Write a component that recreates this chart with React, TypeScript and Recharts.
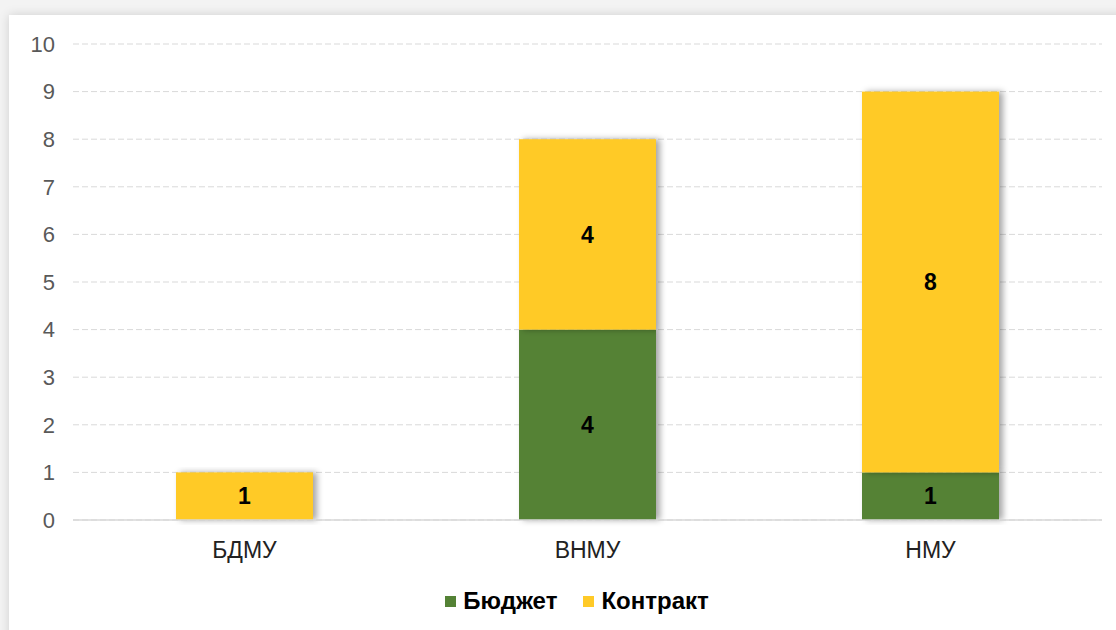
import React from 'react';
import { BarChart, Bar, XAxis, YAxis, CartesianGrid, Legend, LabelList } from 'recharts';

const categories = ['БДМУ', 'ВНМУ', 'НМУ'];
const budget = [0, 4, 1];
const contract = [1, 4, 8];
const yTicks = [0, 1, 2, 3, 4, 5, 6, 7, 8, 9, 10];

const data = categories.map((name, i) => ({ name, budget: budget[i], contract: contract[i] }));

const GREEN = '#548235';
const YELLOW = '#FFCA28';
const FONT = '"Liberation Sans", Arial, sans-serif';

const ShadowRect = (props: any) => {
  const { x, y, width, height, fill } = props;
  if (!height || height <= 0) return null;
  return <rect x={x} y={y} width={width} height={height} fill={fill} filter="url(#barShadow)" />;
};

const labelFmt = (v: any) => (v ? String(v) : '');

const LegendContent = () => (
  <div style={{ position: 'relative', top: 2, display: 'flex', justifyContent: 'center', alignItems: 'center', fontFamily: FONT, fontWeight: 'bold', fontSize: 24, color: '#000', paddingLeft: 52, height: 30 }}>
    <span style={{ display: 'inline-block', width: 11, height: 11, background: GREEN, marginRight: 7 }} />
    <span style={{ marginRight: 26 }}>Бюджет</span>
    <span style={{ display: 'inline-block', width: 11, height: 11, background: YELLOW, marginRight: 7 }} />
    <span>Контракт</span>
  </div>
);

export default function App() {
  return (
    <div style={{ position: 'absolute', left: 0, top: 0, width: 1116, height: 630, background: '#f3f3f3', overflow: 'hidden' }}>
      <div style={{ position: 'absolute', left: 9, top: 15, width: 1120, height: 630, background: '#fff', boxShadow: '0 0 10px rgba(0,0,0,0.15)' }} />
      <div style={{ position: 'absolute', left: 0, top: 0 }}>
        <BarChart width={1116} height={630} data={data} margin={{ top: 44, right: 14, left: 0, bottom: 16 }} barSize={137}>
          <defs>
            <filter id="barShadow" x="-10%" y="-10%" width="130%" height="120%">
              <feDropShadow dx="4" dy="0" stdDeviation="3" floodColor="#000" floodOpacity="0.35" />
            </filter>
          </defs>
          <CartesianGrid vertical={false} stroke="#d9d9d9" strokeDasharray="6 3" />
          <XAxis
            dataKey="name"
            axisLine={{ stroke: '#d9d9d9', strokeWidth: 1.5 }}
            tickLine={false}
            height={64}
            tickMargin={16}
            tick={{ fill: '#222', fontSize: 23, fontFamily: FONT }}
          />
          <YAxis
            domain={[0, 10]}
            ticks={yTicks}
            interval={0}
            axisLine={false}
            tickLine={false}
            width={73}
            tickSize={0}
            tickMargin={18}
            tick={{ fill: '#595959', fontSize: 22, fontFamily: FONT }}
          />
          <Legend verticalAlign="bottom" content={<LegendContent />} />
          <Bar dataKey="budget" name="Бюджет" stackId="a" fill={GREEN} isAnimationActive={false} shape={<ShadowRect />}>
            <LabelList dataKey="budget" position="center" formatter={labelFmt} fill="#000" fontSize={23} fontWeight="bold" fontFamily={FONT} />
          </Bar>
          <Bar dataKey="contract" name="Контракт" stackId="a" fill={YELLOW} isAnimationActive={false} shape={<ShadowRect />}>
            <LabelList dataKey="contract" position="center" formatter={labelFmt} fill="#000" fontSize={23} fontWeight="bold" fontFamily={FONT} />
          </Bar>
        </BarChart>
      </div>
    </div>
  );
}
